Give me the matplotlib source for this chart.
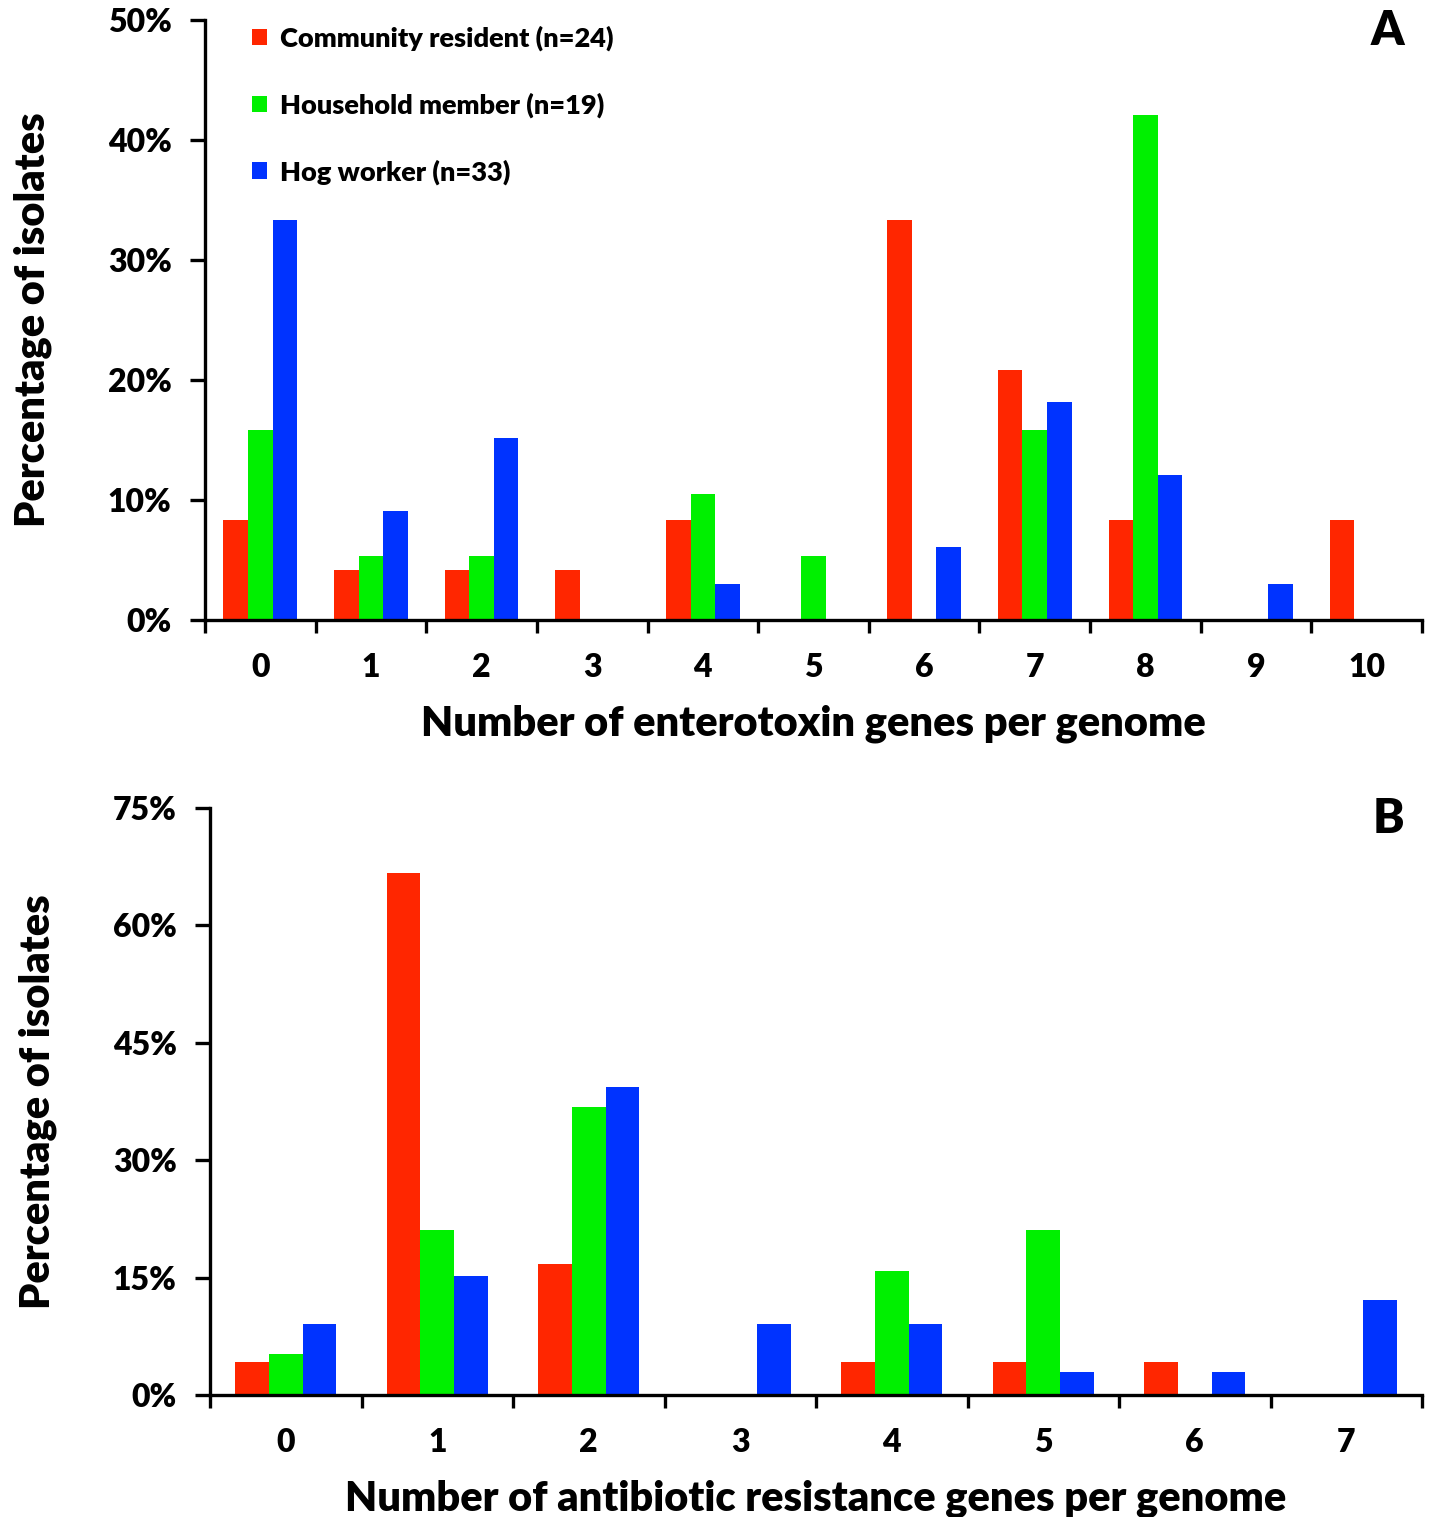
import matplotlib
matplotlib.use("Agg")
import matplotlib.pyplot as plt
from matplotlib.patches import Patch
from matplotlib.ticker import FixedLocator, PercentFormatter
import numpy as np

plt.rcParams['font.family'] = ['Lato', 'DejaVu Sans']
plt.rcParams['font.weight'] = 'heavy'

series_names = ["Community resident (n=24)", "Household member (n=19)", "Hog worker (n=33)"]
colors = ["#FF2600", "#00F000", "#0033FF"]

# Panel A: enterotoxin genes per genome
cats_a = ["0", "1", "2", "3", "4", "5", "6", "7", "8", "9", "10"]
comm_a = [8.3, 4.2, 4.2, 4.2, 8.3, 0.0, 33.3, 20.8, 8.3, 0.0, 8.3]
house_a = [15.8, 5.3, 5.3, 0.0, 10.5, 5.3, 0.0, 15.8, 42.1, 0.0, 0.0]
hog_a = [33.3, 9.1, 15.2, 0.0, 3.0, 0.0, 6.1, 18.2, 12.1, 3.0, 0.0]

# Panel B: antibiotic resistance genes per genome
cats_b = ["0", "1", "2", "3", "4", "5", "6", "7"]
comm_b = [4.2, 66.7, 16.7, 0.0, 4.2, 4.2, 4.2, 0.0]
house_b = [5.3, 21.1, 36.8, 0.0, 15.8, 21.1, 0.0, 0.0]
hog_b = [9.1, 15.2, 39.4, 9.1, 9.1, 3.0, 3.0, 12.1]

W = 'heavy'
fig = plt.figure(figsize=(14.35, 15.17), dpi=100)
axA = fig.add_axes([205/1435, 1-620/1517, (1422-205)/1435, (620-20)/1517])
axB = fig.add_axes([210/1435, 1-1395/1517, (1422-210)/1435, (1395-808)/1517])

def draw(ax, cats, data, ymax, ystep, xlabel, letter):
    n = len(cats)
    x = np.arange(n)
    w = 0.222
    for i, (vals, c) in enumerate(zip(data, colors)):
        ax.bar(x + (i - 1) * w, vals, width=w, color=c, edgecolor='none', zorder=2)
    ax.set_xlim(-0.5, n - 0.5)
    ax.set_ylim(0, ymax)
    ax.spines['top'].set_visible(False)
    ax.spines['right'].set_visible(False)
    for s in ['left', 'bottom']:
        ax.spines[s].set_linewidth(2.4)
    ax.xaxis.set_major_locator(FixedLocator(np.arange(n + 1) - 0.5))
    ax.set_xticklabels([''] * (n + 1))
    ax.set_xticks(x, minor=True)
    ax.set_xticklabels(cats, minor=True)
    ax.tick_params(axis='x', which='major', length=9, width=2.4, direction='out')
    ax.tick_params(axis='x', which='minor', length=0, labelsize=23, pad=24)
    ax.set_yticks(np.arange(0, ymax + 0.1, ystep))
    ax.yaxis.set_major_formatter(PercentFormatter(decimals=0))
    ax.tick_params(axis='y', length=11, width=2.4, direction='out', labelsize=23, pad=13)
    for lab in ax.get_xticklabels(which='both') + ax.get_yticklabels():
        lab.set_fontweight(W)
    ax.set_xlabel(xlabel, fontsize=30, fontweight=W, labelpad=16)
    ax.set_ylabel("Percentage of isolates", fontsize=30, fontweight=W, labelpad=40)
    ax.text(0.985, 1.018, letter, transform=ax.transAxes, ha='right', va='top',
            fontsize=34, fontweight=W)

draw(axA, cats_a, [comm_a, house_a, hog_a], 50, 10,
     "Number of enterotoxin genes per genome", "A")
draw(axB, cats_b, [comm_b, house_b, hog_b], 75, 15,
     "Number of antibiotic resistance genes per genome", "B")

handles = [Patch(facecolor=c, edgecolor='none') for c in colors]
axA.legend(handles, series_names, loc='upper left', bbox_to_anchor=(0.019, 1.031),
           frameon=False, prop={'size': 19.5, 'weight': W},
           handlelength=0.55, handleheight=0.55, handletextpad=0.45, labelspacing=1.52)

fig.savefig("out.png", dpi=100)
